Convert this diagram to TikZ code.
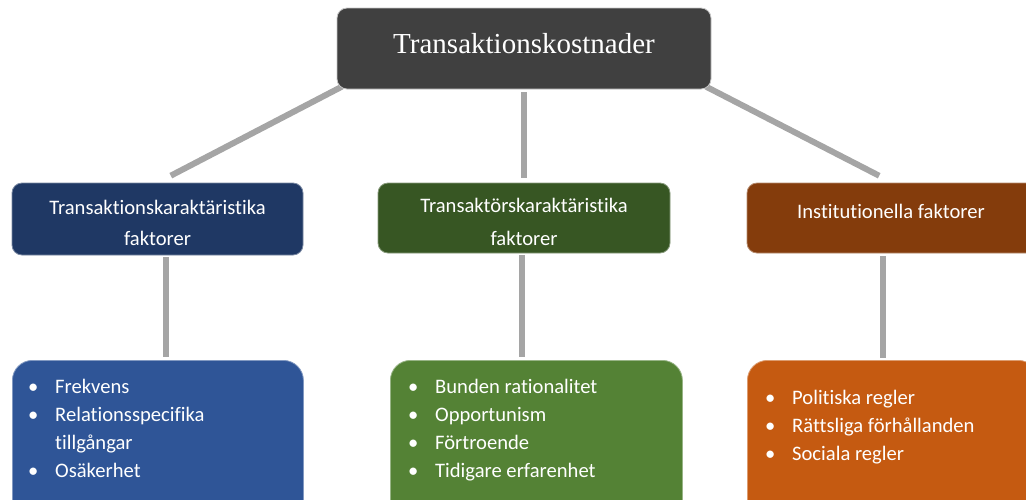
\documentclass[tikz,border=0pt]{standalone}
\usepackage{fontspec}
\newfontfamily\calibri[Ligatures={NoCommon}]{Carlito}
\newfontfamily\timesfont{Liberation Serif}
\usetikzlibrary{backgrounds}

\definecolor{topgray}{HTML}{404040}
\definecolor{conngray}{HTML}{A5A5A5}
\definecolor{navy}{HTML}{1F3864}
\definecolor{darkgreen}{HTML}{375623}
\definecolor{darkbrown}{HTML}{843C0C}
\definecolor{midblue}{HTML}{2F5597}
\definecolor{midgreen}{HTML}{548235}
\definecolor{midorange}{HTML}{C55A11}

\newcommand{\lpunkt}{\makebox[44pt]{\textbullet}}

\begin{document}
\begin{tikzpicture}[x=1pt, y=-1pt,
  box/.style={rectangle, rounded corners=10pt, inner sep=0pt, line width=0.8pt},
  txt/.style={text=white, inner sep=0pt, font=\calibri\fontsize{20.6}{28}\selectfont},
  conn/.style={line width=6pt, draw=conngray}]
\useasboundingbox (0,0) rectangle (1026,499);

% top
\node[box, fill=topgray, draw=gray!45, minimum width=374pt, minimum height=81pt] (tk) at (524,48.5) {};
\node[txt, font=\timesfont\fontsize{29}{35}\selectfont, anchor=base] (tk-t) at (524,53) {Transaktionskostnader};

% middle row
\node[box, fill=navy, draw=navy!60!white, minimum width=291pt, minimum height=72pt] (m1) at (157.5,219) {};
\node[box, fill=darkgreen, draw=darkgreen!60!white, minimum width=292pt, minimum height=70pt] (m2) at (524,218) {};
\node[box, fill=darkbrown, draw=darkbrown!60!white, minimum width=291pt, minimum height=70pt] (m3) at (892.5,218) {};

\node[txt, font=\calibri\fontsize{20.6}{31}\selectfont, align=center, anchor=north] (m1-t) at (157.5,192.3) {\strut Transaktionskaraktäristika\\faktorer};
\node[txt, font=\calibri\fontsize{20.6}{33}\selectfont, align=center, anchor=north] (m2-t) at (524,188.9) {\strut Transaktörskaraktäristika\\faktorer};
\node[txt, anchor=base] (m3-t) at (891,218) {Institutionella faktorer};

% bottom row
\node[box, rounded corners=20pt, fill=midblue, draw=midblue!60!white, minimum width=291pt, minimum height=160pt, anchor=north west] (b1) at (12,360) {};
\node[box, rounded corners=20pt, fill=midgreen, draw=midgreen!60!white, minimum width=292pt, minimum height=160pt, anchor=north west] (b2) at (390,360) {};
\node[box, rounded corners=20pt, fill=midorange, draw=midorange!60!white, minimum width=291pt, minimum height=160pt, anchor=north west] (b3) at (747,360) {};

\node[txt, align=left, anchor=north west] (b1-t) at (11,373.4) {\strut\lpunkt Frekvens\\\lpunkt Relationsspecifika\\\hspace*{44pt}tillgångar\\\lpunkt Osäkerhet};
\node[txt, align=left, anchor=north west] (b2-t) at (391,373.4) {\strut\lpunkt Bunden rationalitet\\\lpunkt Opportunism\\\lpunkt Förtroende\\\lpunkt Tidigare erfarenhet};
\node[txt, align=left, anchor=north west] (b3-t) at (748,384.4) {\strut\lpunkt Politiska regler\\\lpunkt Rättsliga förhållanden\\\lpunkt Sociala regler};

% connectors
\begin{scope}[on background layer]
  \draw[conn, shorten <=-6pt, shorten >=15pt] (tk.south west) -- (m1.north);
  \draw[conn, shorten <=3pt, shorten >=5pt] (tk.south) -- (m2.north);
  \draw[conn, shorten <=-6pt, shorten >=15pt] (tk.south east) -- (m3.north);
  \draw[conn, shorten <=2pt, shorten >=3pt] ([xshift=8.5pt]m1.south) -- ([xshift=8.5pt]m1.south |- b1.north);
  \draw[conn, shorten <=2pt, shorten >=3pt] ([xshift=-2pt]m2.south) -- ([xshift=-2pt]m2.south |- b2.north);
  \draw[conn, shorten <=3pt, shorten >=2pt] ([xshift=-9.5pt]m3.south) -- ([xshift=-9.5pt]m3.south |- b3.north);
\end{scope}
\end{tikzpicture}
\end{document}
